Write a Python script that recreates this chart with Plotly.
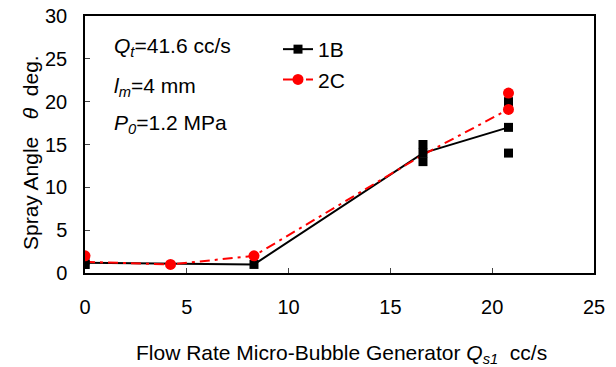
import plotly.graph_objects as go

# Data
x_1b = [0, 0, 0, 8.3, 16.6, 16.6, 16.6, 20.8, 20.8, 20.8]
y_1b = [1, 1, 1.5, 1, 13, 14, 15, 14, 17, 20]
x_1b_line = [0, 8.3, 16.6, 20.8]
y_1b_line = [1.2, 1, 14, 17]

x_2c = [0, 4.2, 8.3, 20.8, 20.8]
y_2c = [2, 1, 2, 19.1, 21]
x_2c_line = [0, 4.2, 8.3, 16.6, 20.8]
y_2c_line = [1.3, 1, 2, 13.8, 19.1]

x_ticks = [0, 5, 10, 15, 20, 25]
y_ticks = [0, 5, 10, 15, 20, 25, 30]

FONT = "Liberation Sans, Arial, sans-serif"
RED_DASH = "10px,5px,3px,5px"
FS = 20
FA = 21

W, H = 616, 367
L, R, T, B = 85, 22, 16, 94
pw, ph = W - L - R, H - T - B


def px(xp):
    return (xp - L) / pw


def py(yp):
    return (H - B - yp) / ph


fig = go.Figure()
fig.add_trace(go.Scatter(x=x_1b_line, y=y_1b_line, mode="lines",
                         line=dict(color="black", width=2), showlegend=False, hoverinfo="skip"))
fig.add_trace(go.Scatter(x=x_2c_line, y=y_2c_line, mode="lines",
                         line=dict(color="red", width=2, dash=RED_DASH), showlegend=False, hoverinfo="skip"))
fig.add_trace(go.Scatter(x=x_1b, y=y_1b, mode="markers",
                         marker=dict(symbol="square", color="black", size=9), showlegend=False))
fig.add_trace(go.Scatter(x=x_2c, y=y_2c, mode="markers",
                         marker=dict(symbol="circle", color="red", size=11), showlegend=False))
# legend entries
fig.add_trace(go.Scatter(x=[None], y=[None], mode="lines+markers", name="1B",
                         line=dict(color="black", width=2),
                         marker=dict(symbol="square", color="black", size=9)))
fig.add_trace(go.Scatter(x=[None], y=[None], mode="lines+markers", name="2C",
                         line=dict(color="red", width=2, dash=RED_DASH),
                         marker=dict(symbol="circle", color="red", size=11)))

ann_font = dict(family=FONT, size=FA, color="black")
for txt, ypix in [("<i>Q<sub>t</sub></i>=41.6 cc/s", 47),
                  ("<i>l<sub>m</sub></i>=4 mm", 87),
                  ("<i>P<sub>0</sub></i>=1.2 MPa", 124)]:
    fig.add_annotation(x=px(112), y=py(ypix), xref="paper", yref="paper", text=txt,
                       showarrow=False, font=ann_font, xanchor="left", yanchor="middle")

# axis titles
fig.add_annotation(x=px(341), y=py(354), xref="paper", yref="paper",
                   text="Flow Rate Micro-Bubble Generator <i>Q<sub>s1</sub></i>  cc/s",
                   showarrow=False, font=ann_font, xanchor="center", yanchor="middle")
fig.add_annotation(x=px(30), y=py(153), xref="paper", yref="paper",
                   text="Spray Angle   <i>θ</i>  deg.", textangle=-90,
                   showarrow=False, font=ann_font, xanchor="center", yanchor="middle")

fig.update_layout(
    width=W, height=H,
    margin=dict(l=L, r=R, t=T, b=B),
    plot_bgcolor="white", paper_bgcolor="white",
    font=dict(family=FONT, size=FS, color="black"),
    legend=dict(x=px(278), y=py(29), xanchor="left", yanchor="top",
                bgcolor="rgba(0,0,0,0)", font=dict(family=FONT, size=FA),
                tracegroupgap=0),
    xaxis=dict(range=[0, 25], tickvals=x_ticks, ticks="inside", ticklen=5,
               showgrid=False, zeroline=False, showline=True, linecolor="black",
               linewidth=1.5, mirror=True, ticklabelstandoff=15, automargin=False),
    yaxis=dict(range=[0, 30], tickvals=y_ticks, ticks="inside", ticklen=5,
               showgrid=False, zeroline=False, showline=True, linecolor="black",
               linewidth=1.5, mirror=True, ticklabelstandoff=12, automargin=False),
)

fig.write_html("out.html", config={"displayModeBar": False},
               post_script="document.body.style.margin='0px';")
